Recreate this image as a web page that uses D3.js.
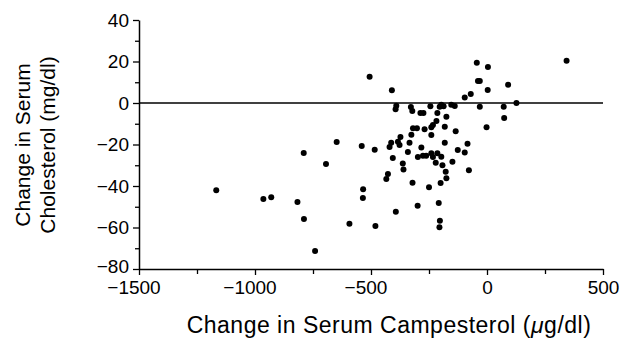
<!DOCTYPE html>
<html><head><meta charset="utf-8">
<script src="https://cdn.jsdelivr.net/npm/d3@7"></script>
<style>
html,body{margin:0;padding:0;background:#fff;}
svg{display:block;}
text{font-family:"Liberation Sans",Arial,Helvetica,sans-serif;fill:#000;}
</style></head>
<body><svg id="c" width="631" height="338"></svg>
<script>
// Change in serum campesterol (µg/dl)
const campesterol = [343,-44,4,-506,-39,-31,91,-410,3,-70,-96,127,-391,-394,-328,-322,-287,-274,-244,-204,-197,-187,-154,-139,-31,72,74,-214,-175,-218,-233,-240,-182,-319,-302,-269,-135,-2,-326,-240,-373,-648,-413,-420,-384,-377,-334,-182,-84,-540,-484,-283,-126,-96,-790,-341,-298,-276,-262,-240,-233,-214,-197,-406,-221,-149,-694,-363,-360,-192,-78,-178,-175,-427,-434,-321,-250,-200,-1167,-534,-535,-964,-930,-817,-208,-299,-393,-789,-593,-481,-203,-205,-741];
// Change in serum cholesterol (mg/dl)
const cholesterol = [20.4,19.4,17.3,12.7,10.6,10.6,8.8,6.1,6.3,4.3,2.7,0,-1.3,-3.0,-1.9,-3.9,-4.8,-4.8,-1.6,-1.8,-0.8,-1.6,-0.8,-1.4,-1.8,-1.8,-7.2,-4.8,-6.6,-8.7,-10.6,-11.7,-11.4,-12.2,-12.2,-12.7,-13.6,-11.7,-15.3,-15.4,-16.4,-18.8,-19.1,-21.2,-18.7,-20.2,-19.1,-19.1,-19.6,-20.7,-22.5,-21.5,-22.7,-23.8,-24.1,-23.6,-26,-25.4,-25.4,-24.2,-26,-24.2,-25.9,-26.5,-28.8,-28.3,-29.4,-29.1,-32,-30,-32.4,-33.1,-36.3,-34.2,-36.6,-38.4,-40.6,-38.6,-42,-41.6,-45.8,-46.3,-45.4,-47.7,-48.2,-49.5,-52.4,-55.9,-58.2,-59.3,-56.7,-59.9,-71.3];
const xTicks = [-1500,-1000,-500,0,500];
const xMinor = [-1250,-750,-250,250];
const yTicks = [40,20,0,-20,-40,-60,-80];
const yMinor = [30,10,-10,-30,-50,-70];
const xTitleParts = ["Change in Serum Campesterol (", "\u03BC", "g/dl)"];
const yTitle = ["Change in Serum","Cholesterol (mg/dl)"];

const svg = d3.select("#c");
const x = d3.scaleLinear().domain([-1500,500]).range([139,603]);
const y = d3.scaleLinear().domain([-80,40]).range([269,20]);
const fmt = d3.format("d");

// minor ticks
svg.append("g").attr("transform",`translate(0,${y(-80)})`)
  .call(d3.axisBottom(x).tickValues(xMinor).tickSize(5).tickFormat(""))
  .call(g=>g.select(".domain").remove())
  .selectAll("line").attr("stroke","#000").attr("stroke-width",1.3);
svg.append("g").attr("transform",`translate(${x(-1500)},0)`)
  .call(d3.axisLeft(y).tickValues(yMinor).tickSize(4).tickFormat(""))
  .call(g=>g.select(".domain").remove())
  .selectAll("line").attr("stroke","#000").attr("stroke-width",1.3);

// major axes
const gx = svg.append("g").attr("transform",`translate(0,${y(-80)})`)
  .call(d3.axisBottom(x).tickValues(xTicks).tickSize(6).tickSizeOuter(0).tickPadding(6).tickFormat(fmt));
gx.select(".domain").attr("stroke","#000").attr("stroke-width",1.5);
gx.selectAll("line").attr("stroke","#000").attr("stroke-width",1.3);
gx.selectAll("text").attr("font-size","19px").attr("font-family","Liberation Sans, Arial, sans-serif").attr("fill","#000")
  .attr("dx",d=>d<0?"-0.29em":null);

const gy = svg.append("g").attr("transform",`translate(${x(-1500)},0)`)
  .call(d3.axisLeft(y).tickValues(yTicks).tickSize(6).tickSizeOuter(0).tickPadding(4).tickFormat(fmt));
gy.select(".domain").attr("stroke","#000").attr("stroke-width",1.5);
gy.selectAll("line").attr("stroke","#000").attr("stroke-width",1.3);
gy.selectAll("text").attr("font-size","19px").attr("font-family","Liberation Sans, Arial, sans-serif").attr("fill","#000")
  .attr("dy",d=>d===-80?"0.2em":"0.32em");

// zero line
svg.append("line").attr("x1",x(-1500)).attr("x2",x(500)).attr("y1",y(0)).attr("y2",y(0))
  .attr("stroke","#000").attr("stroke-width",1.6);

// points
svg.append("g").selectAll("circle").data(d3.range(campesterol.length)).join("circle")
  .attr("cx",i=>x(campesterol[i])).attr("cy",i=>y(cholesterol[i])).attr("r",3).attr("fill","#000");

// titles
const xt = svg.append("text").attr("x",389).attr("y",333).attr("text-anchor","middle")
  .attr("font-size","23px").attr("letter-spacing","0.5px");
xt.append("tspan").text(xTitleParts[0]);
xt.append("tspan").attr("font-style","italic").text(xTitleParts[1]);
xt.append("tspan").text(xTitleParts[2]);
const yt = svg.append("text").attr("transform","translate(0,145) rotate(-90)")
  .attr("text-anchor","middle").attr("font-size","21px");
yt.append("tspan").attr("x",0).attr("y",30).text(yTitle[0]);
yt.append("tspan").attr("x",0).attr("y",55).text(yTitle[1]);
</script></body></html>
